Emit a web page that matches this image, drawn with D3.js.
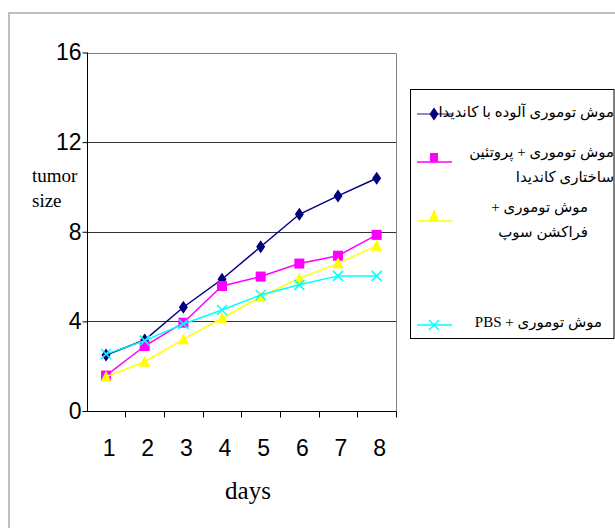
<!DOCTYPE html>
<html>
<head>
<meta charset="utf-8">
<script src="https://cdn.jsdelivr.net/npm/d3@7"></script>
<style>
  html, body { margin: 0; padding: 0; background: #fff; }
  svg { display: block; }
</style>
</head>
<body>
<svg id="chart" width="615" height="528"></svg>
<script>
// Tumor size by day for four groups of mice
const days = [1, 2, 3, 4, 5, 6, 7, 8];
const yTicks = [0, 4, 8, 12, 16];

const candidaInfected   = [2.5, 3.17, 4.63, 5.88, 7.33, 8.78, 9.6, 10.39];
const structuralProtein = [1.58, 2.9, 3.94, 5.58, 6.0, 6.58, 6.93, 7.86];
const supFraction       = [1.53, 2.2, 3.2, 4.14, 5.1, 5.92, 6.59, 7.37];
const pbsControl        = [2.54, 3.14, 3.88, 4.51, 5.18, 5.63, 6.03, 6.03];

const seriesNames = [
  ["موش توموری آلوده با کاندیدا"],
  ["موش توموری + پروتئین", "ساختاری کاندیدا"],
  ["موش توموری +", "فراکشن سوپ"],
  ["موش توموری + PBS"]
];

const series = [
  { values: candidaInfected,   color: "#000080", marker: "diamond" },
  { values: structuralProtein, color: "#FF00FF", marker: "square" },
  { values: supFraction,       color: "#FFFF00", marker: "triangle" },
  { values: pbsControl,        color: "#00FFFF", marker: "cross" }
];

const SANS = "'Liberation Sans', Arial, sans-serif";
const SERIF = "'Liberation Serif', 'Times New Roman', serif";

const svg = d3.select("#chart");

// outer frame
svg.append("path")
  .attr("d", "M9,528 V13 H615")
  .attr("fill", "none")
  .attr("stroke", "#c0c0c0")
  .attr("stroke-width", 2);

const plot = { left: 86.7, right: 396, top: 52.5, bottom: 411 };

const x = d3.scaleBand().domain(days).range([plot.left, plot.right]);
const y = d3.scaleLinear().domain([0, 16]).range([plot.bottom, plot.top]);

// horizontal gridlines
svg.append("g")
  .selectAll("line")
  .data(yTicks.filter(t => t > 0 && t < 16))
  .join("line")
  .attr("x1", plot.left).attr("x2", plot.right)
  .attr("y1", d => Math.round(y(d)) + 0.5).attr("y2", d => Math.round(y(d)) + 0.5)
  .attr("stroke", "#333")
  .attr("stroke-width", 1);

// plot frame (top and right)
svg.append("path")
  .attr("d", `M${plot.left},${Math.round(y(16)) + 0.5} H${Math.round(plot.right) + 0.5} V${plot.bottom}`)
  .attr("fill", "none")
  .attr("stroke", "#808080")
  .attr("stroke-width", 1);

// y axis
const yAxis = svg.append("g")
  .attr("transform", `translate(${Math.round(plot.left) + 0.5},0)`)
  .call(d3.axisLeft(y).tickValues(yTicks).tickSize(5).tickPadding(1).tickFormat(d3.format("d")));
yAxis.select(".domain").attr("stroke", "#000").attr("d", `M0,${y(16)}V${y(0)}`);
yAxis.selectAll(".tick line").attr("stroke", "#000");
yAxis.selectAll(".tick text")
  .attr("font-family", SANS)
  .attr("font-size", 23)
  .attr("fill", "#000");

// x axis with ticks at category boundaries
const xAxis = svg.append("g")
  .attr("transform", `translate(0,${Math.round(plot.bottom) + 0.5})`);
xAxis.append("line")
  .attr("x1", plot.left).attr("x2", plot.right + 0.5)
  .attr("stroke", "#000");
const bounds = days.map(d => x(d)).concat([x(days[days.length - 1]) + x.bandwidth()]);
xAxis.selectAll("line.tk")
  .data(bounds.slice(1))
  .join("line")
  .attr("class", "tk")
  .attr("x1", d => Math.round(d) + 0.5).attr("x2", d => Math.round(d) + 0.5)
  .attr("y1", 0).attr("y2", 6)
  .attr("stroke", "#000");
xAxis.selectAll("text")
  .data(days)
  .join("text")
  .attr("x", d => x(d) + x.bandwidth() / 2 + 3)
  .attr("y", 44)
  .attr("text-anchor", "middle")
  .attr("font-family", SANS)
  .attr("font-size", 23)
  .text(d => d);

// axis titles
svg.append("text")
  .attr("x", 248).attr("y", 499)
  .attr("text-anchor", "middle")
  .attr("font-family", SERIF)
  .attr("font-size", 25)
  .text("days");
const yTitle = svg.append("text")
  .attr("font-family", SERIF)
  .attr("font-size", 19);
yTitle.append("tspan").attr("x", 32).attr("y", 182).text("tumor");
yTitle.append("tspan").attr("x", 32).attr("y", 207).text("size");

// marker shapes
function markerPath(kind) {
  switch (kind) {
    case "diamond": return "M0,-6.5 L4.5,0 L0,6.5 L-4.5,0 Z";
    case "square": return "M-5,-5 H5 V5 H-5 Z";
    case "triangle": return "M0,-6 L5.5,5 L-5.5,5 Z";
    case "cross": return "M-5,-5 L5,5 M5,-5 L-5,5";
  }
}
function drawMarker(g, kind, color) {
  const p = g.append("path").attr("d", markerPath(kind));
  if (kind === "cross") {
    p.attr("fill", "none").attr("stroke", color).attr("stroke-width", 1.5);
  } else {
    p.attr("fill", color).attr("stroke", "none");
  }
}

const line = d3.line()
  .x((d, i) => x(days[i]) + x.bandwidth() / 2)
  .y(d => y(d));

series.forEach(s => {
  const g = svg.append("g");
  g.append("path")
    .datum(s.values)
    .attr("d", line)
    .attr("fill", "none")
    .attr("stroke", s.color)
    .attr("stroke-width", 1.5);
  s.values.forEach((v, i) => {
    const m = g.append("g")
      .attr("transform", `translate(${x(days[i]) + x.bandwidth() / 2},${y(v)})`);
    drawMarker(m, s.marker, s.color);
  });
});

// legend
const legend = svg.append("g");
legend.append("rect")
  .attr("x", 410.5).attr("y", 89.5)
  .attr("width", 203.5).attr("height", 249)
  .attr("fill", "#fff")
  .attr("stroke", "#000")
  .attr("stroke-width", 1);

const legendRows = [
  { lineY: 114, textY: [117], right: 614 },
  { lineY: 162, textY: [157, 182], right: 614 },
  { lineY: 221, textY: [212, 237], right: 588 },
  { lineY: 325, textY: [327], right: 602 }
];

legendRows.forEach((r, i) => {
  const s = series[i];
  legend.append("line")
    .attr("x1", 417).attr("x2", 452)
    .attr("y1", r.lineY).attr("y2", r.lineY)
    .attr("stroke", s.color)
    .attr("stroke-width", 1.5)
    .attr("stroke-opacity", i === 0 ? 0.6 : 1);
  const m = legend.append("g");
  if (s.marker === "square") {
    m.append("rect").attr("x", 430).attr("y", r.lineY - 9).attr("width", 8).attr("height", 9).attr("fill", s.color);
  } else if (s.marker === "triangle") {
    m.append("path").attr("d", `M434,${r.lineY - 12} L439,${r.lineY} L429,${r.lineY} Z`).attr("fill", s.color);
  } else {
    m.attr("transform", `translate(434,${r.lineY})`);
    drawMarker(m, s.marker, s.color);
  }
  seriesNames[i].forEach((t, j) => {
    legend.append("text")
      .attr("x", r.right)
      .attr("y", r.textY[j])
      .attr("direction", "rtl")
      .attr("text-anchor", "start")
      .attr("font-family", "'Liberation Serif', 'DejaVu Serif', 'DejaVu Sans', serif")
      .attr("font-size", 15)
      .text(t);
  });
});
</script>
</body>
</html>
